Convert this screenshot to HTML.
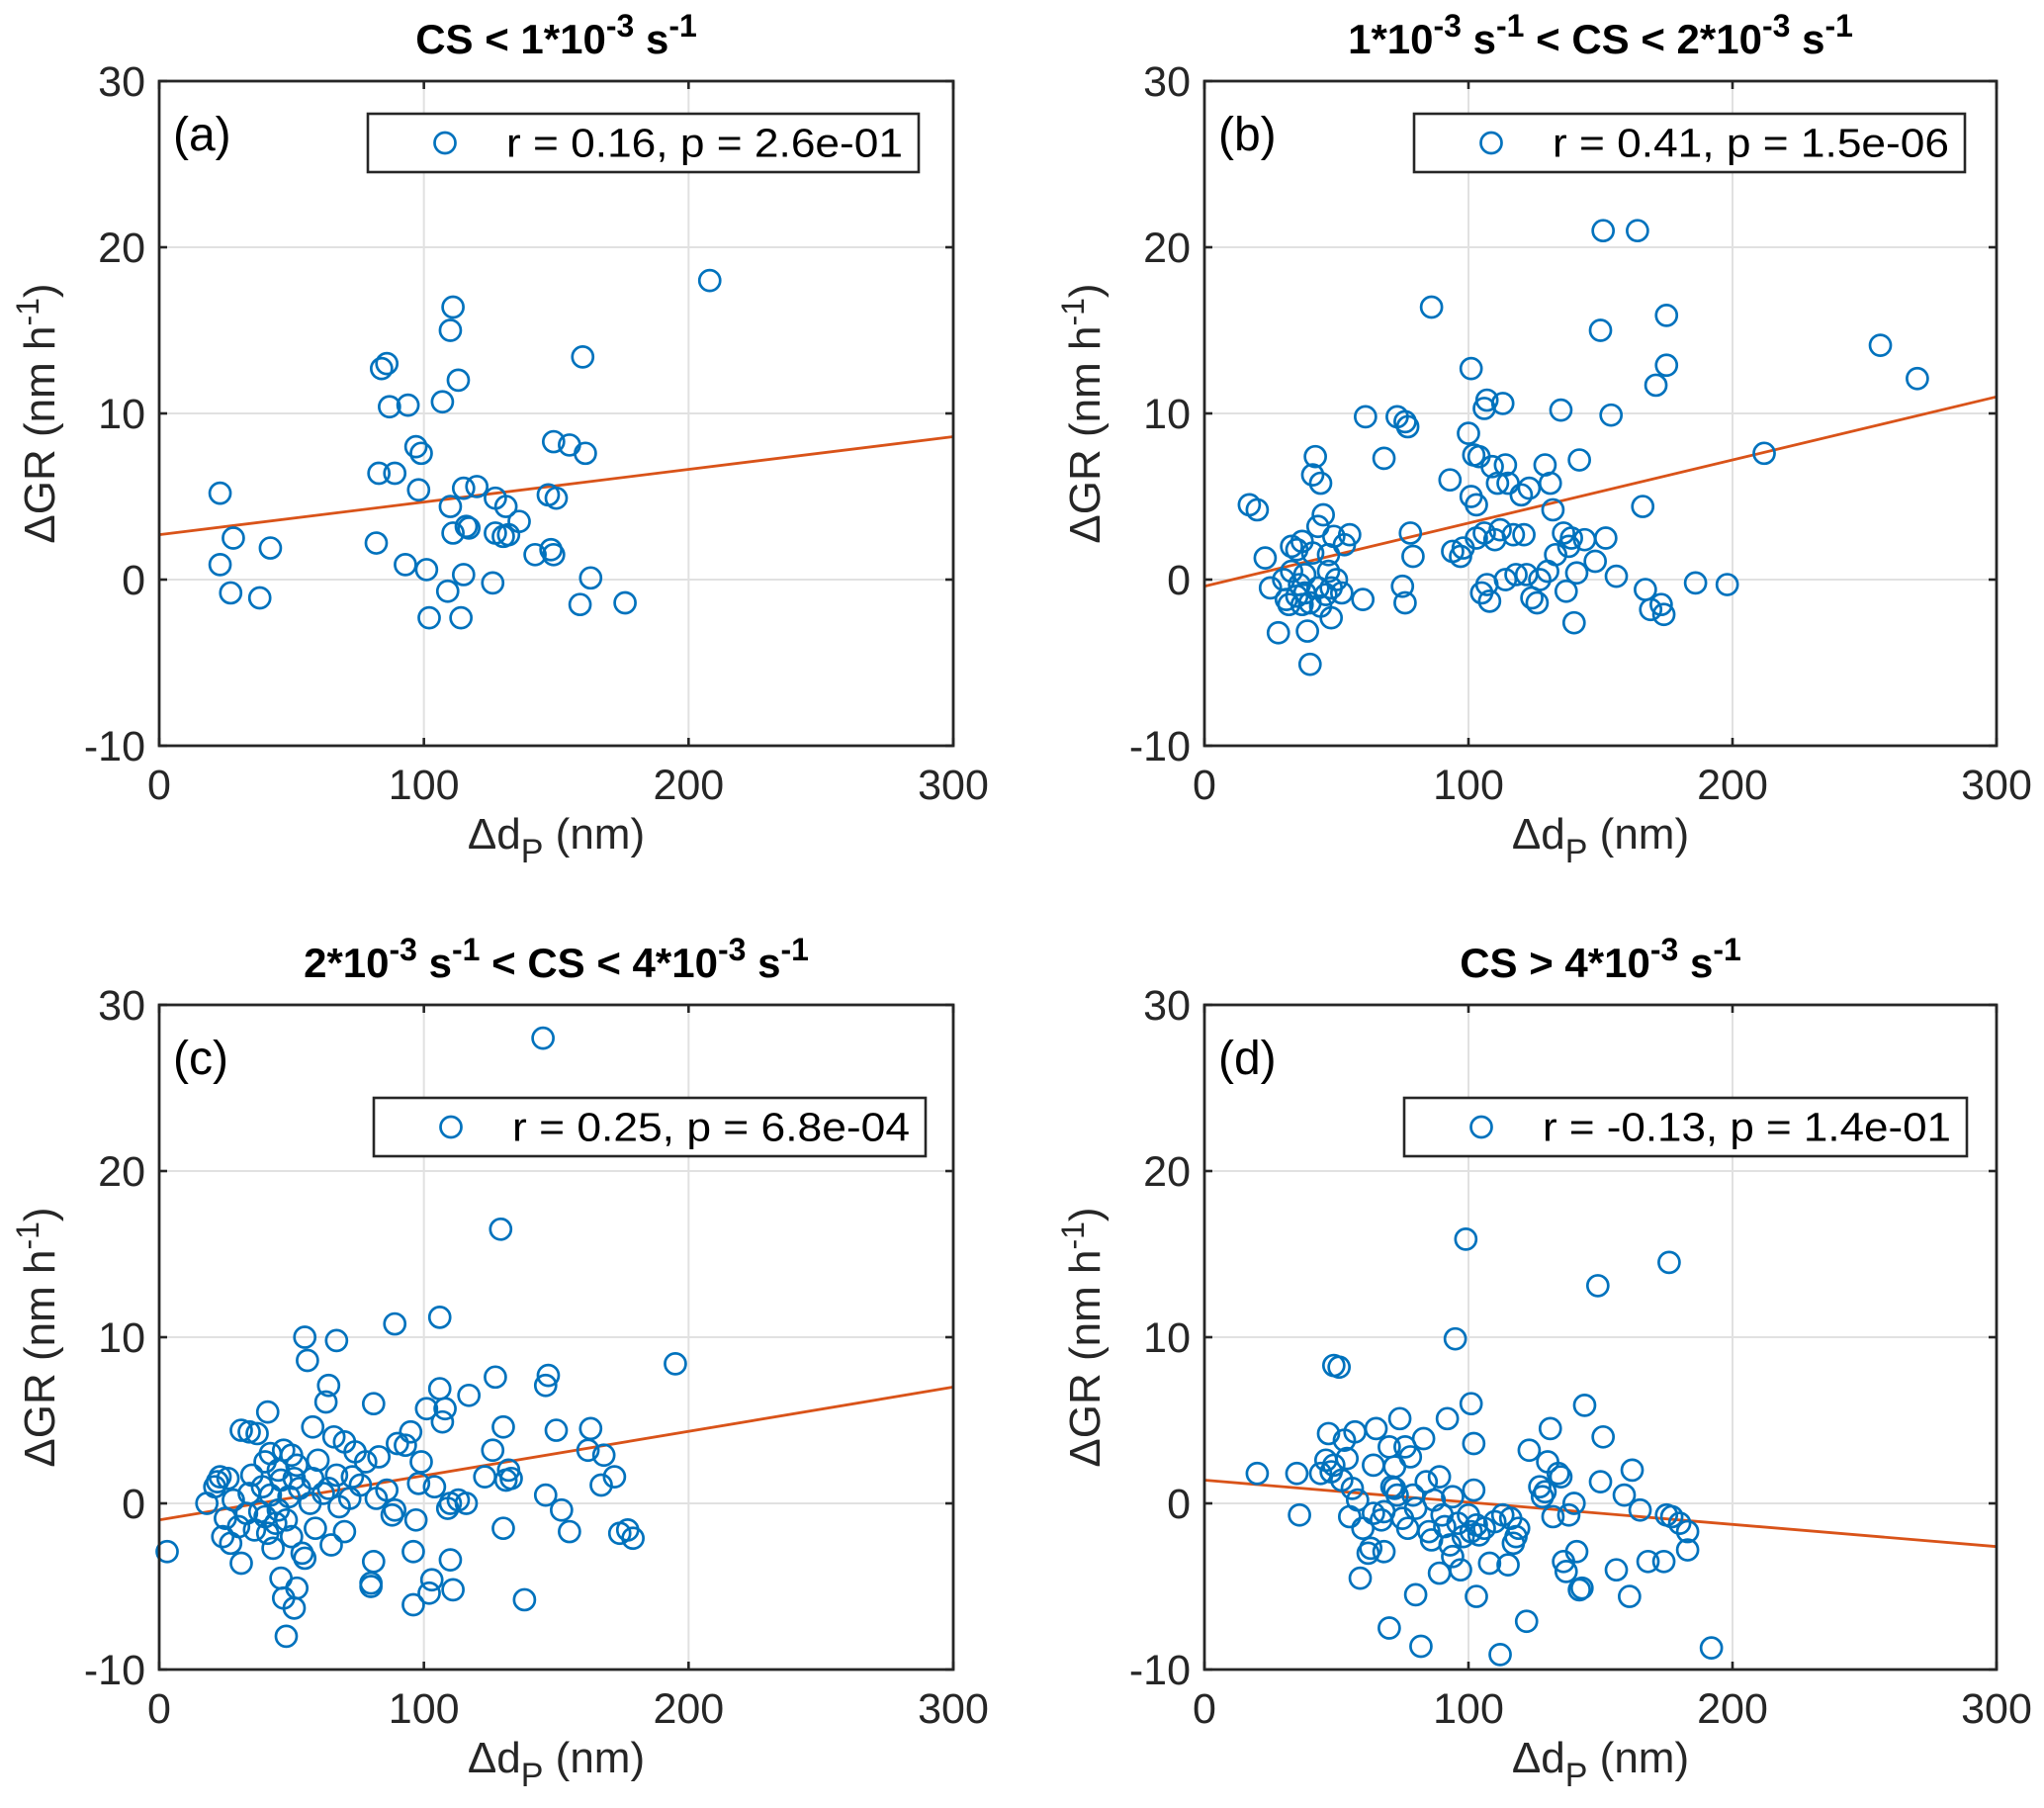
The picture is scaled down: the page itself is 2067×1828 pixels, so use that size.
<!DOCTYPE html>
<html><head><meta charset="utf-8"><style>
body{margin:0;background:#fff}
svg{display:block;font-family:"Liberation Sans",Arial,sans-serif}
</style></head><body>
<svg id="fig" width="2067" height="1828" viewBox="0 0 2067 1828" xmlns="http://www.w3.org/2000/svg"></svg>
<script>
const xTicks=[0,100,200,300];
const yTicks=[-10,0,10,20,30];
const panelLabels=["(a)","(b)","(c)","(d)"];
const legendTexts=["r = 0.16, p = 2.6e-01","r = 0.41, p = 1.5e-06","r = 0.25, p = 6.8e-04","r = -0.13, p = 1.4e-01"];
const fitA=[2.7,8.6];
const fitB=[-0.4,11];
const fitC=[-1,7];
const fitD=[1.4,-2.6];
const dataA=[[23,5.2],[23,0.9],[27,-0.8],[28,2.5],[38,-1.1],[42,1.9],[82,2.2],[83,6.4],[84,12.7],[86,13],[87,10.4],[89,6.4],[93,0.9],[94,10.5],[97,8],[99,7.6],[98,5.4],[101,0.6],[102,-2.3],[107,10.7],[109,-0.7],[110,4.4],[110,15],[111,16.4],[111,2.8],[113,12],[114,-2.3],[115,5.5],[115,0.3],[116,3.2],[117,3.1],[120,5.6],[126,-0.2],[127,2.8],[127,4.9],[130,2.6],[131,4.4],[132,2.7],[136,3.5],[142,1.5],[147,5.1],[148,1.8],[149,1.5],[149,8.3],[150,4.9],[155,8.1],[159,-1.5],[160,13.4],[161,7.6],[163,0.1],[176,-1.4],[208,18]];
const dataB=[[17,4.5],[20,4.2],[23,1.3],[25,-0.5],[28,-3.2],[30,0],[31,-1.2],[32,-1.5],[33,0.5],[33,2],[35,-1],[35,1.8],[36,-0.3],[37,2.3],[37,-1.5],[38,0.3],[38,-0.8],[39,-3.1],[40,-5.1],[40,-1.4],[41,1.6],[41,6.3],[42,7.4],[43,-0.5],[43,3.2],[44,5.8],[44,-1.6],[45,3.9],[46,-0.9],[47,0.5],[47,1.5],[48,-2.3],[48,-0.5],[49,2.6],[50,0],[52,-0.8],[53,2.1],[55,2.7],[60,-1.2],[61,9.8],[68,7.3],[73,9.8],[75,-0.4],[76,-1.4],[76,9.5],[77,9.2],[78,2.8],[79,1.4],[86,16.4],[93,6],[94,1.7],[97,1.4],[98,1.9],[100,8.8],[101,12.7],[101,5],[102,7.5],[103,4.5],[103,2.5],[104,7.4],[105,-0.8],[106,2.8],[106,10.3],[107,10.8],[107,-0.3],[108,-1.3],[109,6.8],[110,2.4],[111,5.8],[112,3],[113,10.6],[114,6.9],[114,0],[115,5.8],[117,2.7],[118,0.3],[120,5.1],[121,2.7],[122,0.3],[123,5.5],[124,-1.1],[126,-1.4],[127,0],[129,6.9],[130,0.5],[131,5.8],[132,4.2],[133,1.5],[135,10.2],[136,2.8],[137,-0.7],[138,2],[139,2.5],[140,-2.6],[141,0.4],[142,7.2],[144,2.4],[148,1.1],[150,15],[151,21],[152,2.5],[154,9.9],[156,0.2],[164,21],[166,4.4],[167,-0.6],[169,-1.8],[171,11.7],[173,-1.5],[174,-2.1],[175,15.9],[175,12.9],[186,-0.2],[198,-0.3],[212,7.6],[256,14.1],[270,12.1]];
const dataC=[[3,-2.9],[18,0],[21,1],[22,1.3],[23,1.6],[24,-2],[25,-0.9],[26,1.5],[27,-2.4],[28,0.2],[30,-1.4],[31,4.4],[31,-3.6],[33,-0.6],[34,4.3],[34,0.6],[35,1.7],[36,-1.6],[37,4.2],[38,-0.5],[39,1],[40,2.5],[40,-0.8],[41,5.5],[41,-1.8],[42,0.5],[42,3],[43,-2.7],[44,-1.2],[45,2],[45,-0.4],[46,-4.5],[46,1.4],[47,-5.7],[47,3.2],[48,-8],[48,-1],[49,0.4],[50,2.9],[50,-2],[51,-6.3],[51,1.5],[52,-5.1],[52,2.3],[53,0.9],[54,-3],[55,-3.3],[55,10],[56,8.6],[57,0],[58,4.6],[58,1.5],[59,-1.5],[60,2.6],[62,0.6],[63,6.1],[64,7.1],[64,0.9],[65,-2.5],[66,4],[67,9.8],[67,1.7],[68,-0.2],[70,3.7],[70,-1.7],[72,0.3],[73,1.6],[74,3.1],[76,1.1],[78,2.5],[80,-4.8],[80,-5],[81,6],[81,-3.5],[82,0.3],[83,2.8],[86,0.8],[88,-0.7],[89,-0.4],[89,10.8],[90,3.6],[93,3.5],[95,4.3],[96,-6.1],[96,-2.9],[97,-1],[98,1.2],[99,2.5],[101,5.7],[102,-5.4],[103,-4.6],[104,1],[106,11.2],[106,6.9],[107,4.9],[108,5.7],[109,-0.3],[110,-3.4],[110,0],[111,-5.2],[113,0.2],[116,0],[117,6.5],[123,1.6],[126,3.2],[127,7.6],[130,4.6],[130,-1.5],[131,1.4],[132,2],[133,1.5],[138,-5.8],[145,28],[146,0.5],[146,7.1],[147,7.7],[150,4.4],[152,-0.4],[155,-1.7],[162,3.2],[163,4.5],[167,1.1],[168,2.9],[172,1.6],[174,-1.8],[177,-1.6],[179,-2.1],[195,8.4],[129,16.5]];
const dataD=[[20,1.8],[35,1.8],[36,-0.7],[44,1.8],[46,2.6],[47,4.2],[48,1.9],[49,2.3],[49,8.3],[51,8.2],[52,1.4],[53,3.8],[54,2.7],[55,-0.8],[56,0.9],[57,4.3],[58,0.2],[59,-4.5],[60,-1.5],[62,-3],[63,-2.7],[64,2.3],[64,-0.6],[65,4.5],[67,-1],[68,-0.5],[68,-2.9],[70,3.4],[70,-7.5],[71,1],[72,2.2],[72,0.9],[73,0.5],[74,5.1],[75,-0.9],[76,3.4],[77,-1.5],[78,2.8],[79,0.5],[80,-5.5],[80,-0.3],[82,-8.6],[83,3.9],[84,1.3],[85,-1.7],[86,-2.2],[87,0.2],[89,-4.2],[89,1.6],[90,-0.7],[91,-1.4],[92,5.1],[93,-2.5],[94,-3.2],[94,0.4],[95,9.9],[96,-1.2],[97,-4],[98,-2],[99,15.9],[100,-0.7],[101,6],[101,-1.7],[102,3.6],[102,0.8],[103,-5.6],[103,-1.3],[104,-1.9],[106,-1.5],[108,-3.6],[110,-1.1],[112,-9.1],[113,-0.7],[115,-3.7],[116,-0.9],[117,-2.4],[118,-2],[119,-1.5],[122,-7.1],[123,3.2],[127,1],[128,0.4],[129,0.7],[130,2.5],[131,4.5],[132,-0.8],[134,1.8],[135,1.6],[136,-3.5],[137,-4.1],[138,-0.7],[140,0],[141,-2.9],[142,-5.2],[143,-5.1],[144,5.9],[149,13.1],[150,1.3],[151,4],[156,-4],[159,0.5],[161,-5.6],[162,2],[165,-0.4],[168,-3.5],[174,-3.5],[175,-0.7],[176,14.5],[177,-0.8],[180,-1.2],[183,-2.8],[183,-1.7],[192,-8.7]];

const NS="http://www.w3.org/2000/svg";
const svg=document.getElementById('fig');
function mk(tag,attrs,parent){const e=document.createElementNS(NS,tag);for(const k in attrs)e.setAttribute(k,attrs[k]);(parent||svg).appendChild(e);return e;}

const panels=[
 {x0:161,x1:964,y0:82,y1:754,data:dataA,fit:fitA,leg:[372,115,557,59],name:'a'},
 {x0:1218,x1:2019,y0:82,y1:754,data:dataB,fit:fitB,leg:[1430,115,557,59],name:'b'},
 {x0:161,x1:964,y0:1016,y1:1688,data:dataC,fit:fitC,leg:[378,1110,558,59],name:'c'},
 {x0:1218,x1:2019,y0:1016,y1:1688,data:dataD,fit:fitD,leg:[1420,1110,569,59],name:'d'}
];
const titles=[
 [["CS < 1*10",0],["-3",1],[" s",0],["-1",1]],
 [["1*10",0],["-3",1],[" s",0],["-1",1],[" < CS < 2*10",0],["-3",1],[" s",0],["-1",1]],
 [["2*10",0],["-3",1],[" s",0],["-1",1],[" < CS < 4*10",0],["-3",1],[" s",0],["-1",1]],
 [["CS > 4*10",0],["-3",1],[" s",0],["-1",1]]
];

panels.forEach((p,i)=>{
 const g=mk('g',{});
 
 
 const sx=v=>p.x0+(v-0)/(300-0)*(p.x1-p.x0);
 const sy=v=>p.y1-(v+10)/40*(p.y1-p.y0);
 xTicks.slice(1,-1).forEach(t=>{const l=mk('line',{x1:sx(t),x2:sx(t),y1:p.y0,y2:p.y1,stroke:'#e1e1e1','stroke-width':2},g);});
 yTicks.slice(1,-1).forEach(t=>{const l=mk('line',{x1:p.x0,x2:p.x1,y1:sy(t),y2:sy(t),stroke:'#e1e1e1','stroke-width':2},g);});
 const fl=mk('line',{x1:sx(0),y1:sy(p.fit[0]),x2:sx(300),y2:sy(p.fit[1]),stroke:'#D95319','stroke-width':2.8},g);
 
 
 p.data.forEach(d=>{const c=mk('circle',{cx:sx(d[0]),cy:sy(d[1]),r:10.5,fill:'none',stroke:'#0072BD','stroke-width':2.7},g);
  
  });
 const bx=mk('rect',{x:p.x0,y:p.y0,width:p.x1-p.x0,height:p.y1-p.y0,fill:'none',stroke:'#262626','stroke-width':2.8},g);
 
 
 xTicks.forEach(t=>{
  mk('line',{x1:sx(t),x2:sx(t),y1:p.y1,y2:p.y1-8,stroke:'#262626','stroke-width':2.6},g);
  mk('line',{x1:sx(t),x2:sx(t),y1:p.y0,y2:p.y0+8,stroke:'#262626','stroke-width':2.6},g);
  const tx=mk('text',{x:sx(t),y:p.y1+54,'text-anchor':'middle','font-size':43,fill:'#262626'},g);tx.textContent=t;
  
  
 });
 yTicks.forEach(t=>{
  mk('line',{x1:p.x0,x2:p.x0+8,y1:sy(t),y2:sy(t),stroke:'#262626','stroke-width':2.6},g);
  mk('line',{x1:p.x1,x2:p.x1-8,y1:sy(t),y2:sy(t),stroke:'#262626','stroke-width':2.6},g);
  const ty=mk('text',{x:p.x0-14,y:sy(t)+15,'text-anchor':'end','font-size':43,fill:'#262626'},g);ty.textContent=t;
  
  
 });
 const xl=mk('text',{x:(p.x0+p.x1)/2,y:p.y1+104,'text-anchor':'middle','font-size':44,fill:'#262626'},g);
 xl.innerHTML='Δd<tspan font-size="34" baseline-shift="-14">P</tspan> (nm)';
 
 
 const cy=(p.y0+p.y1)/2;
 const yl=mk('text',{x:0,y:0,'text-anchor':'middle','font-size':44,fill:'#262626',transform:`translate(${p.x0-106},${cy}) rotate(-90)`},g);
 yl.innerHTML='ΔGR (nm h<tspan font-size="32" baseline-shift="16">-1</tspan>)';
 
 
 const tt=mk('text',{x:(p.x0+p.x1)/2,y:p.y0-28,'text-anchor':'middle','font-size':42,'font-weight':'bold',fill:'#000'},g);
 let html='';titles[i].forEach(s=>{html+=s[1]?`<tspan font-size="32" baseline-shift="17">${s[0]}</tspan>`:`<tspan>${s[0]}</tspan>`;});
 tt.innerHTML=html;
 
 
 const pl=mk('text',{x:p.x0+14,y:p.y0+70,'font-size':48,fill:'#000'},g);pl.textContent=panelLabels[i];
 
 
 const L=p.leg;
 const lg=mk('g',{},g);
 
 
 mk('rect',{x:L[0],y:L[1],width:L[2],height:L[3],fill:'#fff',stroke:'#262626','stroke-width':2.6},lg);
 mk('circle',{cx:L[0]+78,cy:L[1]+L[3]/2,r:10.5,fill:'none',stroke:'#0072BD','stroke-width':2.7},lg);
 const lt=mk('text',{x:L[0]+L[2]-16,y:L[1]+L[3]/2+14,'text-anchor':'end','font-size':41,textLength:L[2]-156,lengthAdjust:'spacingAndGlyphs',fill:'#000'},lg);lt.textContent=legendTexts[i];
 
 
});
</script>
</body></html>
